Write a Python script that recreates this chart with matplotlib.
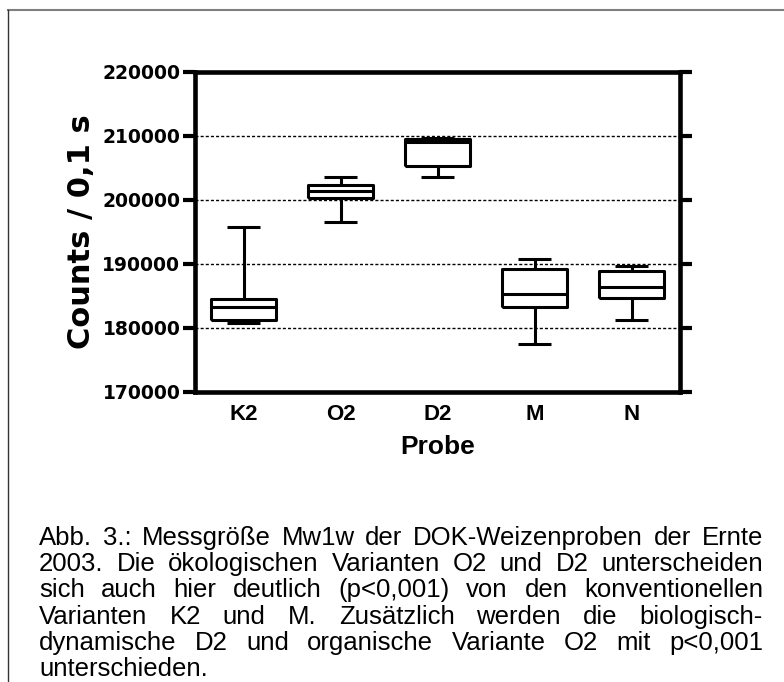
import matplotlib

matplotlib.use("Agg")
import matplotlib.pyplot as plt
from matplotlib.lines import Line2D

# box plot values
samples = ["K2", "O2", "D2", "M", "N"]
whisker_low = [180700, 196500, 203550, 177400, 181250]
quart_low = [181200, 200300, 205300, 183200, 184700]
medians = [183200, 201400, 209000, 185200, 186400]
quart_high = [184500, 202250, 209550, 189200, 188800]
whisker_high = [195800, 203550, 209600, 190700, 189700]

y_ticks = [170000, 180000, 190000, 200000, 210000, 220000]
grid_levels = [180000, 190000, 200000, 210000]

caption_lines = [
    "Abb. 3.: Messgröße Mw1w der DOK-Weizenproben der Ernte",
    "2003. Die ökologischen Varianten O2 und D2 unterscheiden",
    "sich auch hier deutlich (p<0,001) von den konventionellen",
    "Varianten K2 und M. Zusätzlich werden die biologisch-",
    "dynamische D2 und organische Variante O2 mit p<0,001",
    "unterschieden.",
]

W, H = 784, 682
fig = plt.figure(figsize=(W / 100, H / 100), dpi=100)
ax = fig.add_axes([195 / W, 1 - 391.7 / H, 485 / W, 320 / H])

stats = []
for name, lo, q1, med, q3, hi in zip(
    samples, whisker_low, quart_low, medians, quart_high, whisker_high
):
    stats.append(
        dict(label=name, whislo=lo, q1=q1, med=med, q3=q3, whishi=hi, fliers=[])
    )

line_kw = dict(color="black", linewidth=2.2, solid_capstyle="butt")
ax.bxp(
    stats,
    positions=range(1, len(samples) + 1),
    widths=0.68,
    capwidths=0.35,
    showfliers=False,
    boxprops=line_kw,
    medianprops=line_kw,
    whiskerprops=line_kw,
    capprops=line_kw,
)

# dotted horizontal grid
for level in grid_levels:
    ax.axhline(level, color="black", linewidth=1, linestyle=(0, (2.2, 1.5)), zorder=0)

ax.set_xlim(0.5, len(samples) + 0.5)
ax.set_ylim(y_ticks[0], y_ticks[-1])
ax.set_yticks(y_ticks)
ax.set_yticklabels([str(v) for v in y_ticks])
ax.set_xticks(range(1, len(samples) + 1))
ax.set_xticklabels(samples)

for side in ["left", "right", "top", "bottom"]:
    ax.spines[side].set_linewidth(3.3)
    ax.spines[side].set_capstyle("projecting")

ax.tick_params(
    axis="y", left=True, right=True, direction="out", length=8.5, width=3.0,
    pad=2, labelsize=13.5,
)
ax.tick_params(axis="x", length=0, pad=9, labelsize=16)
for lbl in ax.get_yticklabels():
    lbl.set_fontweight("bold")
    lbl.set_family("DejaVu Sans")
for lbl in ax.get_xticklabels():
    lbl.set_fontweight("bold")
    lbl.set_family("Liberation Sans")

ax.set_ylabel("Counts / 0,1 s", fontsize=22, fontweight="bold", family="DejaVu Sans")
ax.yaxis.set_label_coords(-0.235, 0.5)
ax.yaxis.label.set_va("center")
ax.set_xlabel("Probe", fontsize=19, fontweight="bold", family="Liberation Sans")
ax.xaxis.set_label_coords(0.5, -0.135)

# page frame lines
fig.add_artist(Line2D([8 / W, 1], [1 - 10 / H] * 2, color="#7f7f7f", linewidth=1.5))
fig.add_artist(Line2D([8 / W] * 2, [0, 1 - 10 / H], color="#333333", linewidth=1.0))

# justified caption
renderer = fig.canvas.get_renderer()
x_left, x_right = 39, 763
base0, step = 545, 26.2
cap_size = 18.5
for i, line in enumerate(caption_lines):
    y = 1 - (base0 + i * step) / H
    words = line.split()
    texts = [
        fig.text(0, y, w, fontsize=cap_size, family="Liberation Sans", va="baseline")
        for w in words
    ]
    widths = [t.get_window_extent(renderer).width for t in texts]
    if i == len(caption_lines) - 1 or len(words) == 1:
        gap = cap_size * 0.278 * 100 / 72
    else:
        gap = (x_right - x_left - sum(widths)) / (len(words) - 1)
    x = x_left
    for t, w in zip(texts, widths):
        t.set_x(x / W)
        x += w + gap

fig.savefig("out.png", dpi=100)
